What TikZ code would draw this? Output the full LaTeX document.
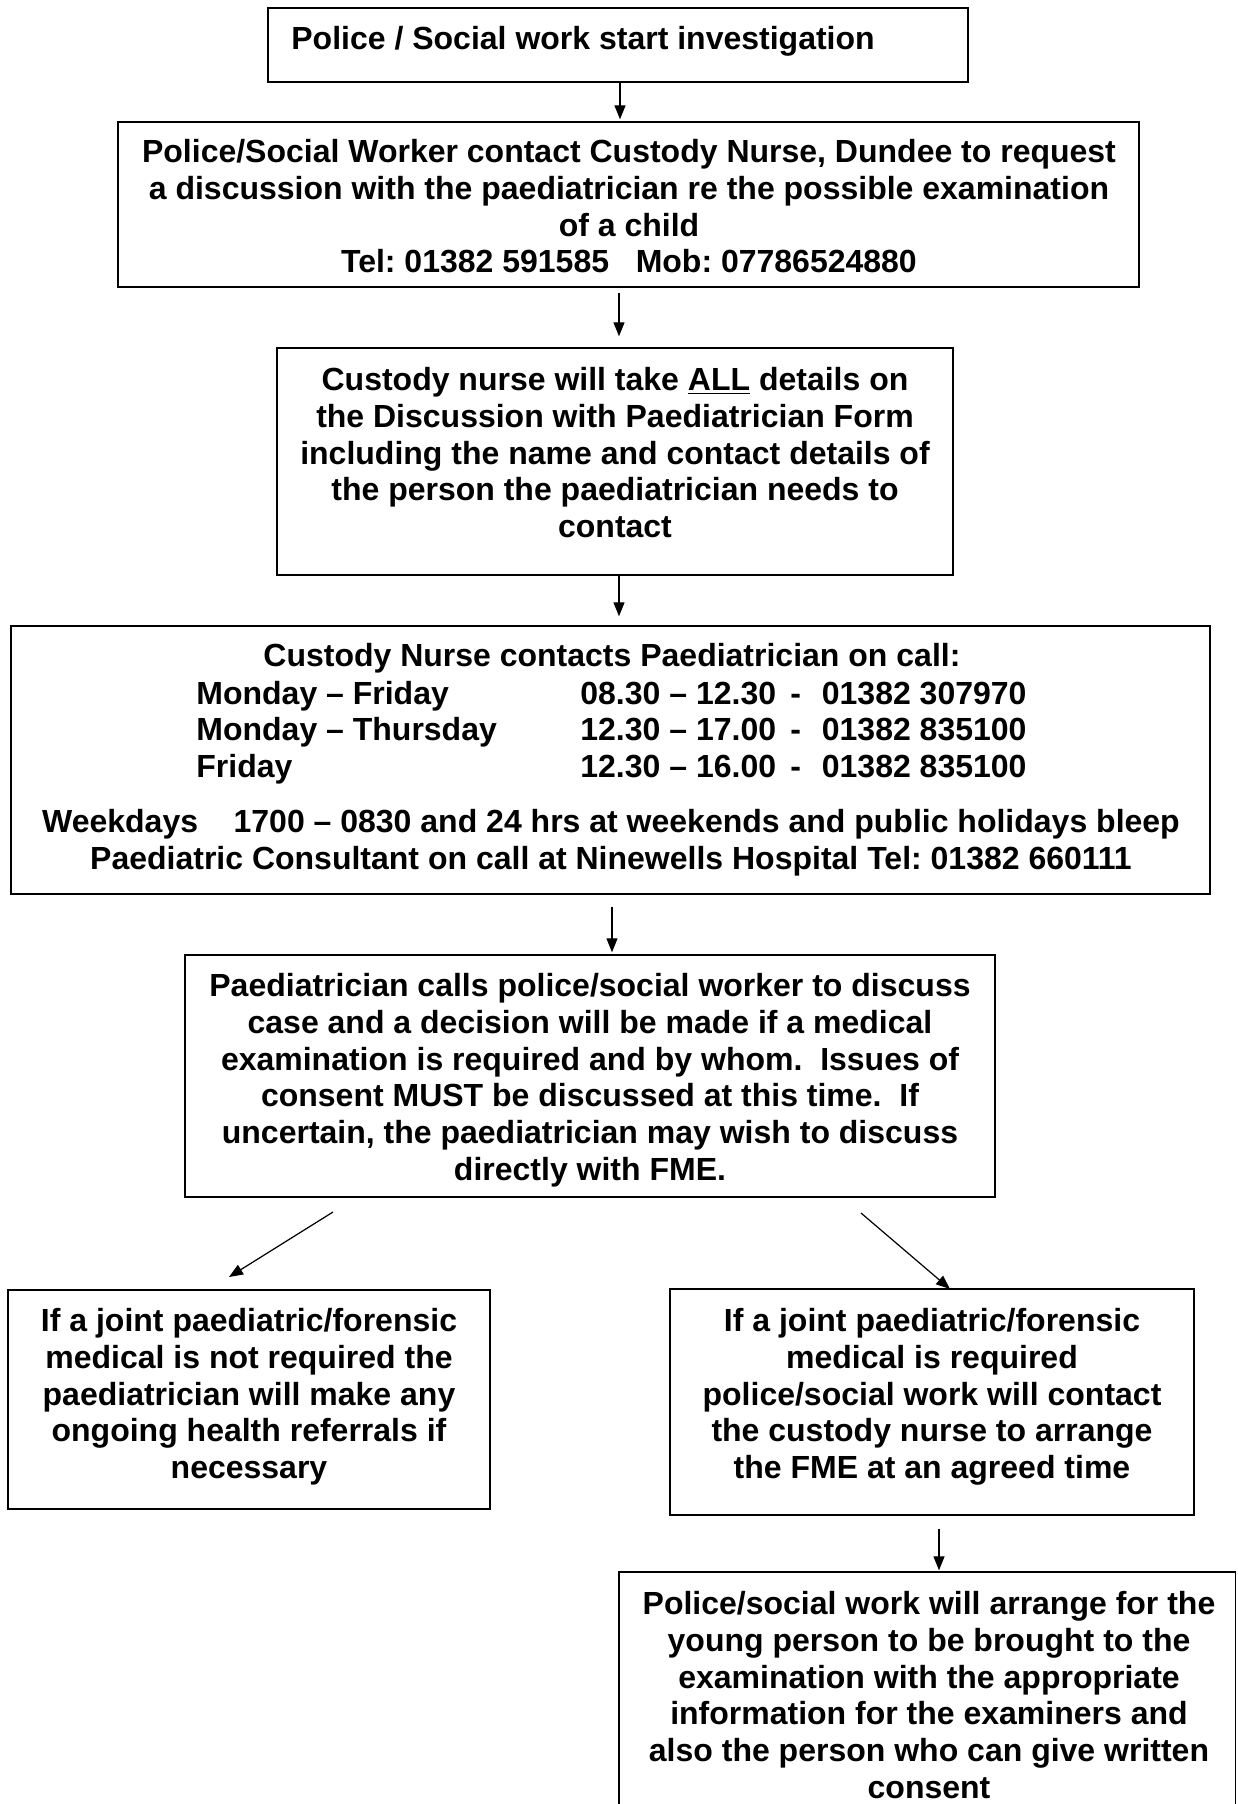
\documentclass[tikz,border=0pt]{standalone}
\usepackage{fontspec}
\setmainfont{Liberation Sans}
\usetikzlibrary{arrows.meta,fit}
\frenchspacing
\begin{document}
\begin{tikzpicture}[x=0.5pt,y=-0.5pt,
  box/.style={draw, line width=0.7pt, inner sep=0pt, fit=#1},
  txt/.style={font=\fontsize{16}{18.35}\selectfont\bfseries, align=center, inner sep=0pt},
  ltxt/.style={font=\fontsize{16}{18.35}\selectfont\bfseries, align=left, inner sep=0pt},
  arr/.style={line width=0.6pt, -{Triangle[length=7pt,width=5.5pt]}}]
\useasboundingbox (0,0) rectangle (1237,1804);
% corner coordinates
\coordinate (b1a) at (268,8);   \coordinate (b1b) at (968,82);
\coordinate (b2a) at (118,122); \coordinate (b2b) at (1139,287);
\coordinate (b3a) at (277,348); \coordinate (b3b) at (953,575);
\coordinate (b4a) at (11,626);  \coordinate (b4b) at (1210,894);
\coordinate (b5a) at (185,955); \coordinate (b5b) at (995,1197);
\coordinate (b6a) at (8,1290);  \coordinate (b6b) at (490,1509);
\coordinate (b7a) at (670,1289); \coordinate (b7b) at (1194,1515);
\coordinate (b8a) at (619,1572); \coordinate (b8b) at (1235.5,1830);
% boxes
\node[box={(b1a)(b1b)}] (b1) {};
\node[box={(b2a)(b2b)}] (b2) {};
\node[box={(b3a)(b3b)}] (b3) {};
\node[box={(b4a)(b4b)}] (b4) {};
\node[box={(b5a)(b5b)}] (b5) {};
\node[box={(b6a)(b6b)}] (b6) {};
\node[box={(b7a)(b7b)}] (b7) {};
\node[box={(b8a)(b8b)}] (b8) {};
% texts
\node[txt, anchor=west] (t1) at (291,41.5) {Police / Social work start investigation};
\node[txt] (t2) at (629,206.5) {Police/Social Worker contact Custody Nurse, Dundee to request\\
a discussion with the paediatrician re the possible examination\\
of a child\\
Tel: 01382 591585\ \ \ Mob: 07786524880};
\node[txt] (t3) at (615,452.7) {Custody nurse will take \underline{ALL} details on\\
the Discussion with Paediatrician Form\\
including the name and contact details of\\
the person the paediatrician needs to\\
contact};
\node[txt, anchor=west] (t4a) at (263,658.5) {Custody Nurse contacts Paediatrician on call:};
\node[ltxt, anchor=west] (t4b) at (196,733.5) {\strut Monday -- Friday\\\strut Monday -- Thursday\\\strut Friday};
\node[ltxt, anchor=west] (t4c) at (580,733.5) {\strut 08.30 -- 12.30\\\strut 12.30 -- 17.00\\\strut 12.30 -- 16.00};
\node[ltxt, anchor=west] (t4d) at (790,733.5) {\strut -\\\strut -\\\strut -};
\node[ltxt, anchor=west] (t4e) at (821.5,733.5) {\strut 01382 307970\\\strut 01382 835100\\\strut 01382 835100};
\node[txt] (t4f) at (611,842.5) {Weekdays\ \ \ \ 1700 -- 0830 and 24 hrs at weekends and public holidays bleep\\
Paediatric Consultant on call at Ninewells Hospital Tel: 01382 660111};
\node[txt] (t5) at (590,1080.3) {Paediatrician calls police/social worker to discuss\\
case and a decision will be made if a medical\\
examination is required and by whom.\ \ Issues of\\
consent MUST be discussed at this time.\ \ If\\
uncertain, the paediatrician may wish to discuss\\
directly with FME.};
\node[txt] (t6) at (249,1397) {If a joint paediatric/forensic\\
medical is not required the\\
paediatrician will make any\\
ongoing health referrals if\\
necessary};
\node[txt] (t7) at (932,1397) {If a joint paediatric/forensic\\
medical is required\\
police/social work will contact\\
the custody nurse to arrange\\
the FME at an agreed time};
\node[txt] (t8) at (929,1695) {Police/social work will arrange for the\\
young person to be brought to the\\
examination with the appropriate\\
information for the examiners and\\
also the person who can give written\\
consent};
% arrow x positions
\coordinate (x1) at (620,0);
\coordinate (x2) at (619,0);
\coordinate (x3) at (619,0);
\coordinate (x4) at (612,0);
\coordinate (x7) at (939,0);
\coordinate (d1s) at (333,1212); \coordinate (d1e) at (229,1277);
\coordinate (d2s) at (861,1213); \coordinate (d2e) at (950,1289);
% connectors
\draw[arr, shorten >=1pt] (b1.south -| x1) -- (b2.north -| x1);
\draw[arr, shorten <=2.5pt, shorten >=5.5pt] (b2.south -| x2) -- (b3.north -| x2);
\draw[arr, shorten >=4.5pt] (b3.south -| x3) -- (b4.north -| x3);
\draw[arr, shorten <=6pt, shorten >=1pt] (b4.south -| x4) -- (b5.north -| x4);
\draw[arr] (d1s) -- (d1e);
\draw[arr] (d2s) -- (d2e);
\draw[arr, shorten <=6.5pt, shorten >=0.5pt] (b7.south -| x7) -- (b8.north -| x7);
\end{tikzpicture}
\end{document}
